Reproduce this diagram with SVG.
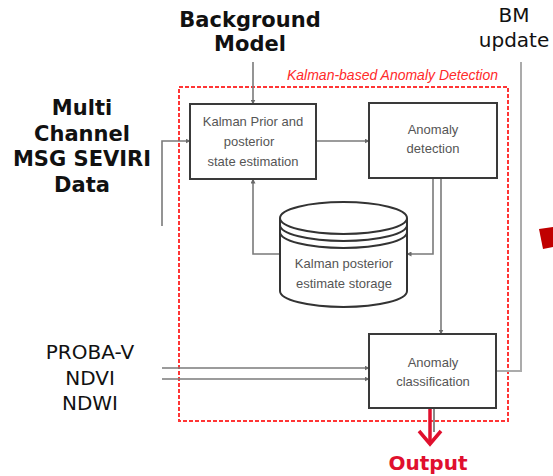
<svg xmlns="http://www.w3.org/2000/svg" width="553" height="476" viewBox="0 0 553 476">
  <style>
    .box { fill: #ffffff; stroke: #3a3a3a; stroke-width: 2; }
    .lbl { font-family: "Liberation Sans", Arial, sans-serif; font-size: 13px; fill: #555555; text-anchor: middle; }
    .big { font-family: "DejaVu Sans", Verdana, sans-serif; font-size: 20px; fill: #111111; text-anchor: middle; }
    .bold { font-weight: bold; font-size: 21px; }
    .wire { fill: none; stroke: #7a7a7a; stroke-width: 1.6; }
    .wire-arrow { marker-end: url(#tip); }
    .cyl { fill: #ffffff; stroke: #333333; stroke-width: 2; }
  </style>
  <defs>
    <marker id="tip" viewBox="0 0 10 10" refX="9" refY="5" markerWidth="5" markerHeight="5" markerUnits="userSpaceOnUse" orient="auto">
      <path d="M0,0 L10,5 L0,10 z" fill="#6a6a6a"/>
    </marker>
  </defs>

  <rect width="553" height="476" fill="#ffffff"/>

  <!-- Anomaly detection frame -->
  <g id="frame">
    <rect x="179" y="87" width="329" height="334" fill="none" stroke="#ff3535" stroke-width="2" stroke-dasharray="4 2"/>
    <text x="287" y="80" textLength="211" lengthAdjust="spacingAndGlyphs" font-family="Liberation Sans, Arial, sans-serif" font-style="italic" font-size="14" fill="#ff2a2a">Kalman-based Anomaly Detection</text>
  </g>

  <!-- Connectors -->
  <g id="connectors">
    <line class="wire wire-arrow" x1="253" y1="62" x2="253" y2="104"/>
    <polyline class="wire wire-arrow" points="162,226 162,141 190,141"/>
    <line class="wire wire-arrow" x1="316" y1="141" x2="369" y2="141"/>
    <polyline class="wire wire-arrow" points="280,254 253,254 253,179"/>
    <polyline class="wire wire-arrow" points="433,178 433,254 407,254"/>
    <line class="wire wire-arrow" x1="441" y1="178" x2="441" y2="334"/>
    <line class="wire wire-arrow" x1="162" y1="368" x2="369" y2="368"/>
    <line class="wire wire-arrow" x1="162" y1="379" x2="369" y2="379"/>
    <polyline points="496,371 521,371 521,62" fill="none" stroke="#ababab" stroke-width="2"/>
    <line x1="434" y1="408" x2="434" y2="432" stroke="#8a8a8a" stroke-width="2"/>
    <!-- output arrow -->
    <line x1="430" y1="407" x2="430" y2="443" stroke="#e0102e" stroke-width="3.5"/>
    <polyline points="419,431 430,444 441,431" fill="none" stroke="#e0102e" stroke-width="3.5" stroke-linejoin="miter"/>
  </g>

  <!-- Nodes -->
  <g id="kalman-estimation">
    <rect class="box" x="190" y="104" width="126" height="75"/>
    <text class="lbl" x="253" y="126">Kalman Prior and</text>
    <text class="lbl" x="249" y="146">posterior</text>
    <text class="lbl" x="253" y="166">state estimation</text>
  </g>

  <g id="anomaly-detection">
    <rect class="box" x="369" y="103" width="128" height="75"/>
    <text class="lbl" x="433" y="134">Anomaly</text>
    <text class="lbl" x="433" y="153">detection</text>
  </g>

  <g id="posterior-storage">
    <path class="cyl" d="M280,218 L280,291 A63.5,16 0 0 0 407,291 L407,218"/>
    <ellipse class="cyl" cx="343.5" cy="218" rx="63.5" ry="16"/>
    <path d="M280,225 A63.5,16 0 0 0 407,225" fill="none" stroke="#333333" stroke-width="2"/>
    <path d="M280,232 A63.5,16 0 0 0 407,232" fill="none" stroke="#333333" stroke-width="2"/>
    <text class="lbl" x="344" y="268">Kalman posterior</text>
    <text class="lbl" x="344" y="288">estimate storage</text>
  </g>

  <g id="anomaly-classification">
    <rect class="box" x="369" y="334" width="127" height="74"/>
    <text class="lbl" x="433" y="367">Anomaly</text>
    <text class="lbl" x="433" y="386">classification</text>
  </g>

  <g id="background-model">
    <text class="big bold" x="250" y="27">Background</text>
    <text class="big bold" x="250" y="51">Model</text>
  </g>

  <g id="seviri-data">
    <text class="big bold" x="82" y="115">Multi</text>
    <text class="big bold" x="82" y="141">Channel</text>
    <text class="big bold" x="82" y="166">MSG SEVIRI</text>
    <text class="big bold" x="82" y="192">Data</text>
  </g>

  <g id="bm-update">
    <text class="big" x="514" y="22">BM</text>
    <text class="big" x="514" y="47">update</text>
  </g>

  <g id="proba-v">
    <text class="big" x="90" y="359">PROBA-V</text>
    <text class="big" x="90" y="385">NDVI</text>
    <text class="big" x="90" y="410">NDWI</text>
  </g>

  <g id="output">
    <text x="428" y="470" font-family="DejaVu Sans, Verdana, sans-serif" font-weight="bold" font-size="20" fill="#e0102e" text-anchor="middle">Output</text>
  </g>

  <!-- edge marker at right border -->
  <polygon points="539,229 553,227 553,247 543,249" fill="#c00000"/>
</svg>
